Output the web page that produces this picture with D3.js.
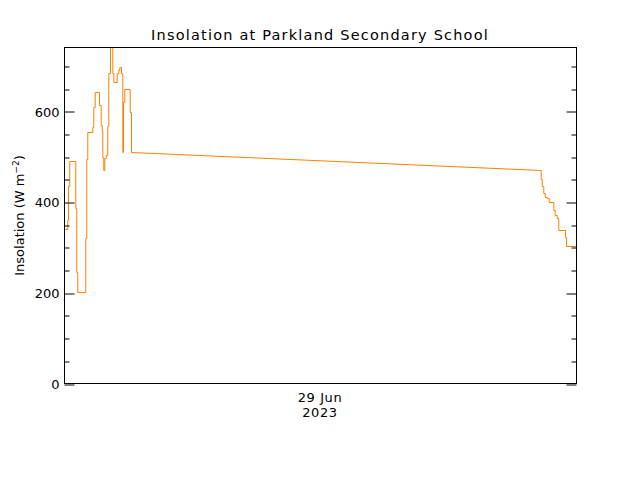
<!DOCTYPE html>
<html>
<head>
<meta charset="utf-8">
<script src="https://cdn.jsdelivr.net/npm/d3@7"></script>
<style>
  body { margin: 0; background: #fff; }
  svg { display: block; font-family: "DejaVu Sans", sans-serif; }
</style>
</head>
<body>
<svg width="640" height="480"></svg>
<script>
// trace vertices: hour of day (29 Jun 2023) and insolation (W m-2)
const hours = [
  0.0, 0.155, 0.155, 0.1875, 0.1875, 0.248, 0.248, 0.530, 0.530, 0.577,
  0.577, 0.623, 0.623, 0.998, 0.998, 1.045, 1.045, 1.092, 1.092, 1.327,
  1.327, 1.373, 1.373, 1.439, 1.439, 1.641, 1.641, 1.720, 1.720, 1.767,
  1.767, 1.795, 1.795, 1.842, 1.842, 1.889, 1.889, 1.955, 1.955, 2.030,
  2.030, 2.077, 2.077, 2.156, 2.156, 2.264, 2.264, 2.311, 2.311, 2.470,
  2.470, 2.545, 2.545, 2.592, 2.592, 2.672, 2.672, 2.733, 2.733, 2.766,
  2.766, 2.827, 2.827, 3.080, 3.080, 3.141, 3.141, 22.345, 22.345, 22.392,
  22.392, 22.467, 22.467, 22.533, 22.533, 22.627, 22.627, 22.720, 22.720, 22.936,
  22.936, 23.002, 23.002, 23.095, 23.095, 23.170, 23.170, 23.484, 23.484, 23.531,
  23.531, 24.0
];
const insolation = [
  341, 341, 361, 361, 435, 435, 490, 490, 388, 388,
  245, 245, 202, 202, 321, 321, 495, 495, 554, 554,
  565, 565, 609, 609, 643, 643, 614, 614, 569, 569,
  556, 556, 499, 499, 470, 470, 497, 497, 503, 503,
  568, 568, 684, 684, 750, 750, 684, 684, 664, 664,
  684, 684, 691, 691, 697, 697, 684, 684, 510, 510,
  621, 621, 649, 649, 598, 598, 510, 470, 452, 452,
  435, 435, 420, 420, 412, 412, 408, 408, 400, 400,
  382, 382, 371, 371, 364, 364, 338, 338, 322, 322,
  303, 303
];
const majorTicks = [0, 200, 400, 600];
const minorTicks = [50, 100, 150, 250, 300, 350, 450, 500, 550, 650, 700];
const title = "Insolation at Parkland Secondary School";
const dateLabel = ["29 Jun", "2023"];

const marginLeft = 64, marginRight = 64, marginTop = 47, marginBottom = 97;
const width = 640, height = 480;

const day0 = new Date(Date.UTC(2023, 5, 29));
const toDate = h => new Date(day0.getTime() + h * 3600e3);

const svg = d3.select("svg");
svg.append("rect").attr("width", width).attr("height", height).attr("fill", "#fff");

const x = d3.scaleUtc()
    .domain([day0, toDate(24)])
    .range([marginLeft, width - marginRight]);

const y = d3.scaleLinear()
    .domain([0, 742])
    .range([height - marginBottom + 0.5, marginTop]);

const L = marginLeft + 0.5, R = width - marginRight + 0.5;
const T = marginTop + 0.5, B = height - marginBottom + 0.5;

svg.append("clipPath").attr("id", "clip")
  .append("rect").attr("x", L).attr("y", T).attr("width", R - L).attr("height", B - T);

// the trace
const pts = hours.map((h, i) => [toDate(h), insolation[i]]);
svg.append("path")
    .datum(pts)
    .attr("clip-path", "url(#clip)")
    .attr("fill", "none")
    .attr("stroke", "#ff7f00")
    .attr("stroke-width", 1)
    .attr("d", d3.line().x(d => x(d[0]) + 0.5).y(d => Math.round(y(d[1])) + 0.5));

// frame
svg.append("rect")
    .attr("x", L).attr("y", T).attr("width", R - L).attr("height", B - T)
    .attr("fill", "none").attr("stroke", "#000").attr("stroke-width", 1);

function yAxis(g, side, values, size, labels) {
  const ax = (side === "left" ? d3.axisLeft(y) : d3.axisRight(y))
      .tickValues(values).tickSize(-size).tickSizeOuter(0).tickPadding(5)
      .tickFormat(labels ? d3.format("d") : "");
  g.call(ax);
  g.select(".domain").remove();
  g.selectAll(".tick line").attr("stroke", "#000")
      .attr("transform", d => `translate(0,${Math.round(y(d)) - y(d)})`);
  g.selectAll(".tick text")
      .attr("font-size", 13).attr("font-family", "DejaVu Sans, sans-serif")
      .attr("fill", "#000");
}

svg.append("g").attr("transform", `translate(${L},0.5)`).call(yAxis, "left", majorTicks, 10, true);
svg.append("g").attr("transform", `translate(${L},0.5)`).call(yAxis, "left", minorTicks, 5, false);
svg.append("g").attr("transform", `translate(${R},0.5)`).call(yAxis, "right", majorTicks, 10, false);
svg.append("g").attr("transform", `translate(${R},0.5)`).call(yAxis, "right", minorTicks, 5, false);

// date label under the centre of the day
const xc = x(toDate(12));
svg.append("text").attr("x", xc).attr("y", 402).attr("text-anchor", "middle")
    .attr("font-size", 13).attr("letter-spacing", 0.6).text(dateLabel[0]);
svg.append("text").attr("x", xc).attr("y", 417).attr("text-anchor", "middle")
    .attr("font-size", 13).attr("letter-spacing", 0.6).text(dateLabel[1]);

// title
svg.append("text").attr("x", 320).attr("y", 40).attr("text-anchor", "middle")
    .attr("font-size", 14.5).attr("letter-spacing", 1.2).text(title);

// y label
const yl = svg.append("text")
    .attr("transform", `translate(24,${(T + B) / 2}) rotate(-90)`)
    .attr("text-anchor", "middle").attr("font-size", 13);
yl.append("tspan").text("Insolation (W m");
yl.append("tspan").attr("dy", -5).attr("font-size", 9).text("−2");
yl.append("tspan").attr("dy", 5).text(")");
</script>
</body>
</html>
